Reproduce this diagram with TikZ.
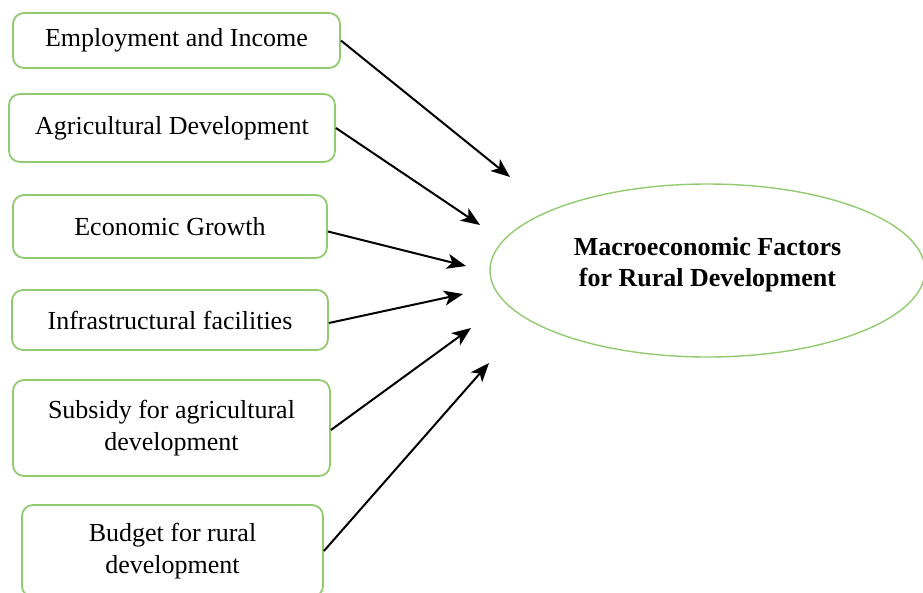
\documentclass[tikz,border=0pt]{standalone}
\usepackage{fontspec}
\setmainfont{Liberation Serif}
\usetikzlibrary{arrows.meta,shapes.geometric}
\definecolor{boxgreen}{RGB}{146,202,112}
\begin{document}
\begin{tikzpicture}[x=1pt,y=-1pt,>={Stealth[length=19pt,width=15pt,inset=5pt]},line join=round,
  font=\fontsize{26}{32}\selectfont,
  factor/.style={draw=boxgreen,line width=1.8pt,rounded corners=11pt,align=center,inner sep=0pt},
  goal/.style={ellipse,draw=boxgreen,line width=1.4pt,align=center,inner sep=0pt,font=\fontsize{26}{31}\selectfont\bfseries}]
\useasboundingbox (0,0) rectangle (923,592);
\node[factor,minimum width=327pt,minimum height=55pt] (emp) at (176.5,40.5) {Employment and Income};
\node[factor,minimum width=326pt,minimum height=68pt] (agr) at (172,128) {Agricultural Development};
\node[factor,minimum width=314pt,minimum height=63pt] (eco) at (170,226.5) {Economic Growth};
\node[factor,minimum width=316pt,minimum height=60pt] (inf) at (170,320) {Infrastructural facilities};
\node[factor,minimum width=317pt,minimum height=96pt] (sub) at (171.5,428) {Subsidy for agricultural\\development};
\node[factor,minimum width=301pt,minimum height=92pt] (bud) at (172.5,551) {Budget for rural\\development};
\node[goal,text depth=18pt,minimum width=435pt,minimum height=173pt] (mac) at (707.5,270.5) {Macroeconomic Factors\\for Rural Development};
% arrow heads stop short of the ellipse
\path (510,177) coordinate (t1)
(480,225) coordinate (t2)
(466,266) coordinate (t3)
(463,294) coordinate (t4)
(471,328) coordinate (t5)
(489,363) coordinate (t6);
\draw[->,line width=2pt] (emp.east)--(t1);
\draw[->,line width=2pt] (agr.east)--(t2);
\draw[->,line width=2pt] ([yshift=-5pt]eco.east)--(t3);
\draw[->,line width=2pt] ([yshift=-3pt]inf.east)--(t4);
\draw[->,line width=2pt] ([yshift=-2pt]sub.east)--(t5);
\draw[->,line width=2pt] (bud.east)--(t6);
\end{tikzpicture}
\end{document}
